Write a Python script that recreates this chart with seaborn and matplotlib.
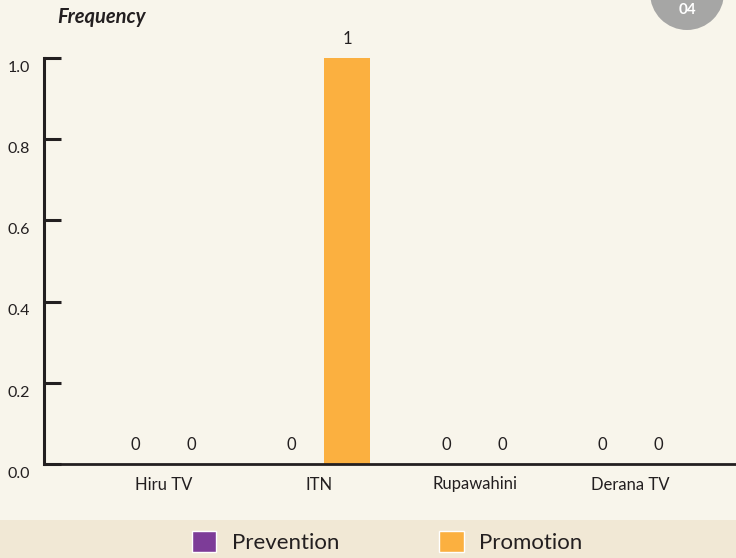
"""TV channel frequency chart"""
import pandas as pd
import seaborn as sns
import matplotlib.pyplot as plt
import matplotlib.transforms as mtransforms
from matplotlib.patches import Patch, Rectangle, Circle

# data
channels = ['Hiru TV', 'ITN', 'Rupawahini', 'Derana TV']
prevention = [0, 0, 0, 0]
promotion = [0, 1, 0, 0]
series_names = ['Prevention', 'Promotion']
y_ticks = [0.0, 0.2, 0.4, 0.6, 0.8, 1.0]

# colours
bg = '#F8F5EB'
band = '#F1E8D5'
purple = '#7D3C98'
orange = '#FBB040'
ink = '#231F20'

df = pd.DataFrame({
    'channel': channels * 2,
    'frequency': prevention + promotion,
    'type': [series_names[0]] * len(channels) + [series_names[1]] * len(channels),
})

sns.set_style('white')
plt.rcParams['font.family'] = ['Lato', 'DejaVu Sans']

fig = plt.figure(figsize=(7.36, 5.58), dpi=100, facecolor=bg)
ax = fig.add_axes([44 / 736, 94 / 558, 1 - 44 / 736, 406 / 558])
ax.set_facecolor(bg)

sns.barplot(data=df, x='channel', y='frequency', hue='type',
            palette=[purple, orange], saturation=1, width=0.72, gap=0.17,
            linewidth=0, legend=False, ax=ax)

# value labels
for cont in ax.containers:
    ax.bar_label(cont, fmt='%g', padding=8, fontsize=12, color=ink)

ax.set_xlim(-0.77, 3.68)
ax.set_ylim(0, 1.0)
ax.set_yticks(y_ticks)
ax.set_yticklabels([f'{t:.1f}' for t in y_ticks])
ax.set_xlabel('')
ax.set_ylabel('')

for s in ['top', 'right']:
    ax.spines[s].set_visible(False)
ax.spines['left'].set_linewidth(2.2)
ax.spines['bottom'].set_linewidth(2.0)
ax.spines['left'].set_color(ink)
ax.spines['bottom'].set_color(ink)

ax.tick_params(axis='y', left=True, direction='in', length=12, width=2.2,
               color=ink, pad=10, labelsize=11.5, labelcolor=ink)
ax.tick_params(axis='x', bottom=False, length=0, pad=9, labelsize=12,
               labelcolor=ink)

# shift y tick labels slightly down like the original
shift = mtransforms.ScaledTranslation(0, -6 / 72, fig.dpi_scale_trans)
for lab in ax.get_yticklabels():
    lab.set_transform(lab.get_transform() + shift)

# axis title
fig.text(57 / 736, 1 - 17 / 558, 'Frequency', fontsize=14.5, fontweight='bold',
         fontstyle='italic', color=ink, ha='left', va='center')

# page badge
fig.patches.append(Circle((687, 558 + 7), 37, transform=None,
                          facecolor='#A6A6A5', edgecolor='none'))
fig.text(687 / 736, 1 - 10 / 558, '04', fontsize=11, fontweight='bold',
         color='white', ha='center', va='center')

# legend band
fig.patches.append(Rectangle((0, 0), 1, 38 / 558, transform=fig.transFigure,
                             facecolor=band, edgecolor='none', zorder=0))
handles = [Patch(facecolor=purple, label=series_names[0]),
           Patch(facecolor=orange, label=series_names[1])]
fig.legend(handles=handles, loc='center', bbox_to_anchor=(387 / 736, 16 / 558),
           ncol=2, frameon=False, fontsize=16, handlelength=1.1, handleheight=1.1,
           handletextpad=0.7, columnspacing=4.5, labelcolor=ink)

plt.savefig('out.png', dpi=100, facecolor=bg)
